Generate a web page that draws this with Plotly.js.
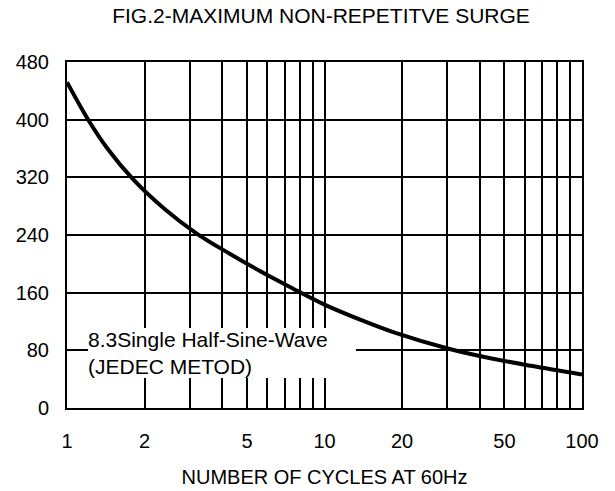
<!DOCTYPE html>
<html>
<head>
<meta charset="utf-8">
<script src="https://cdn.plot.ly/plotly-3.0.1.min.js"></script>
<style>html,body{margin:0;padding:0;background:#fff;}#chart{width:615px;height:491px;}</style>
</head>
<body>
<div id="chart"></div>
<script>
// Curve (cycles at 60Hz vs peak surge current)
const cycles = [1, 1.21, 1.44, 1.8, 2.4, 3.19, 4.27, 5.61, 7.34, 10, 14.4, 18.6, 30.1, 42.7, 63.4, 100];
const surge  = [452, 399.6, 359.3, 317.8, 275.7, 242, 214.3, 190.1, 168, 143.4, 119.7, 104.9, 82.6, 70.1, 58.5, 46.4];

// Axis ticks / grid
const xGrid = [1,2,3,4,5,6,7,8,9,10,20,30,40,50,60,70,80,90,100];
const xLabels = ['1','2','','','5','','','','','10','20','','','50','','','','','100'];
const yTicks = [0,80,160,240,320,400,480];
const yLabels = ['0','80','160','240','320','400','480'];

const titleText = 'FIG.2-MAXIMUM NON-REPETITVE SURGE';
const xTitle = 'NUMBER OF CYCLES AT 60Hz';
const noteText = '8.3Single Half-Sine-Wave<br>(JEDEC METOD)';

const font = 'Liberation Sans, Arial, sans-serif';

const trace = {
  x: cycles, y: surge, type: 'scatter', mode: 'lines',
  line: {color: '#000', width: 4, shape: 'spline', smoothing: 1},
  hoverinfo: 'skip', showlegend: false
};

const layout = {
  width: 615, height: 491,
  margin: {l: 67, r: 33, t: 62, b: 83, pad: 0},
  paper_bgcolor: '#fff', plot_bgcolor: '#fff',
  font: {family: font, color: '#000', size: 20},
  title: {text: titleText, font: {family: font, size: 21, color: '#000'},
          xref: 'container', yref: 'container', x: 0.522, xanchor: 'center', y: 1 - 16/491, yanchor: 'middle'},
  xaxis: {
    type: 'log', range: [0, 2], tickmode: 'array', tickvals: xGrid, ticktext: xLabels,
    showgrid: true, gridcolor: '#000', gridwidth: 2,
    showline: true, mirror: true, linecolor: '#000', linewidth: 2,
    ticks: '', zeroline: false, automargin: false, fixedrange: true,
    ticklabelstandoff: 14,
    tickfont: {family: font, size: 20, color: '#000'},
    title: {text: xTitle, font: {family: font, size: 20, color: '#000'}, standoff: 19}
  },
  yaxis: {
    range: [0, 480], tickmode: 'array', tickvals: yTicks, ticktext: yLabels,
    showgrid: true, gridcolor: '#000', gridwidth: 2,
    showline: true, mirror: true, linecolor: '#000', linewidth: 2,
    ticks: '', zeroline: false, automargin: false, fixedrange: true,
    ticklabelstandoff: 12,
    tickfont: {family: font, size: 20, color: '#000'}
  },
  annotations: [{
    text: noteText, xref: 'paper', yref: 'paper',
    x: (88 - 67) / 515, xanchor: 'left', y: (408 - 352.5) / 346, yanchor: 'middle',
    align: 'left', width: 268, bgcolor: '#fff', borderpad: 0, borderwidth: 0,
    showarrow: false, font: {family: font, size: 21, color: '#000'}
  }]
};

Plotly.newPlot('chart', [trace], layout, {staticPlot: true, displayModeBar: false});
</script>
</body>
</html>
